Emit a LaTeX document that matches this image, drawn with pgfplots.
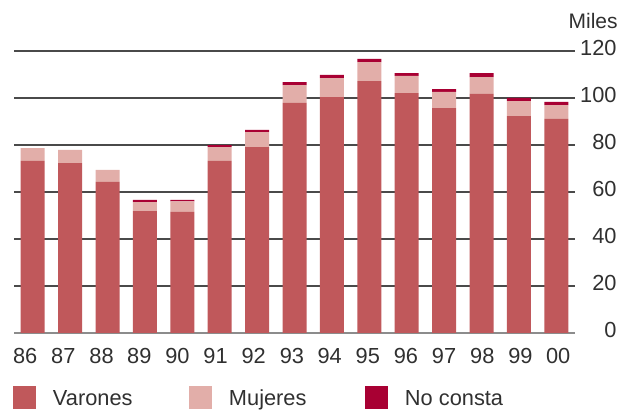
\documentclass[border=0pt]{standalone}
\usepackage{fontspec}
\setmainfont{Liberation Sans}
\usepackage{pgfplots}
\pgfplotsset{compat=1.18}
\definecolor{varones}{HTML}{C0585B}
\definecolor{mujeres}{HTML}{E2AEA9}
\definecolor{noconsta}{HTML}{A80033}
\definecolor{gridc}{HTML}{4A4A4A}
\definecolor{zeroc}{HTML}{8C8C8C}
\definecolor{txt}{HTML}{303030}
\newcommand\fs{\fontsize{10.9}{13}\selectfont}
\begin{document}
\begin{tikzpicture}
\useasboundingbox (-7pt,-38.5pt) rectangle (302.5pt,166.5pt);
\begin{axis}[
  at={(0,0)}, anchor=south west,
  scale only axis, width=280.5pt, height=141pt,
  xmin=-0.5, xmax=14.5, ymin=0, ymax=120,
  ybar stacked, bar width=12pt,
  ytick={20,40,...,120},
  extra y ticks={0},
  extra y tick style={grid style={zeroc, line width=0.7pt}},
  yticklabel pos=right,
  xtick={-0.2,0.82,1.84,2.85,3.87,4.89,5.91,6.93,7.94,8.96,9.98,11.00,12.02,13.04,14.05},
  xticklabels={86,87,88,89,90,91,92,93,94,95,96,97,98,99,00},
  major tick length=0pt,
  axis line style={draw=none},
  ymajorgrids, grid style={gridc, line width=0.6pt},
  /pgf/number format/assume math mode=true,
  yticklabel style={anchor=east, inner sep=0pt, xshift=21pt, yshift=1.5pt, font=\fs, text=txt},
  xticklabel style={anchor=center, inner sep=0pt, yshift=-11.5pt, font=\fs, text=txt},
  legend columns=3,
  legend style={at={(-0.0018,-0.188)}, anchor=north west, draw=none, fill=none,
    inner sep=0pt, outer sep=0pt, font=\fs, text=txt,
    nodes={inner sep=0pt}},
  legend image code/.code={\path[#1,draw=none] (0pt,-5.75pt) rectangle (11.5pt,5.75pt);},
]
\addplot[fill=varones, draw=none] coordinates {
 (0,73.2) (1,72.3) (2,64.3) (3,51.9) (4,51.5) (5,73.2) (6,79.1) (7,97.9)
 (8,100.4) (9,107.2) (10,102.1) (11,95.7) (12,101.7) (13,92.3) (14,91.1)};
\addplot[fill=mujeres, draw=none] coordinates {
 (0,5.5) (1,5.6) (2,5.1) (3,3.8) (4,4.5) (5,5.9) (6,6.4) (7,7.6)
 (8,8.1) (9,8.1) (10,7.3) (11,6.9) (12,7.2) (13,6.4) (14,5.9)};
\addplot[fill=noconsta, draw=none] coordinates {
 (0,0) (1,0) (2,0) (3,0.9) (4,0.6) (5,0.8) (6,0.9) (7,1.3)
 (8,1.3) (9,1.3) (10,1.2) (11,1.2) (12,1.7) (13,1.3) (14,1.3)};
\legend{\hspace{8.5pt}\raisebox{-1.8pt}{\makebox[68pt][l]{Varones}},\hspace{8.5pt}\raisebox{-1.8pt}{\makebox[68pt][l]{Mujeres}},\hspace{8.5pt}\raisebox{-1.8pt}{\makebox[68pt][l]{No consta}}}
\end{axis}
\node[anchor=base east, inner sep=0pt, font=\fontsize{10.5}{12}\selectfont, text=txt] at (302pt,152pt) {Miles};
\end{tikzpicture}
\end{document}
